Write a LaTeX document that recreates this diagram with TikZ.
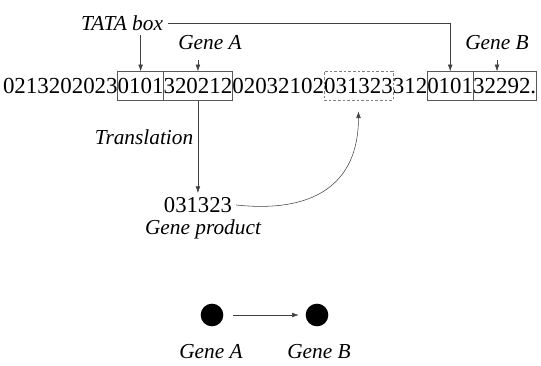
\documentclass[tikz,border=0pt]{standalone}
\usepackage{fontspec}
\setmainfont{Liberation Serif}
\usetikzlibrary{positioning,arrows.meta}

\begin{document}
\begin{tikzpicture}[x=0.75pt,y=-0.75pt,
	seq/.style={inner sep=0pt, outer sep=0pt, minimum height=22pt, font=\fontsize{17.2}{20}\selectfont},
	site/.style={seq, draw=black!65},
	lbl/.style={font=\fontsize{16}{19}\selectfont\itshape},
	link/.style={draw=black!75, -{Latex[length=5pt,width=3.5pt]}},
	gene/.style={circle, fill=black, minimum size=17pt, inner sep=0pt}]
	\useasboundingbox (0,0) rectangle (541,365);

	% the string with its sites
	\node[seq, anchor=west] (pre) at (3,86) {0213202023};
	\node[site, right=0pt of pre] (tataA) {0101};
	\node[site, right=0pt of tataA] (geneA) {320212};
	\node[seq, right=0pt of geneA] (mid) {02032102};
	\node[seq, draw=black!50, dash pattern=on 2pt off 1.5pt, right=0pt of mid] (target) {031323};
	\node[seq, right=0pt of target] (gap) {312};
	\node[site, right=0pt of gap] (tataB) {0101};
	\node[site, right=0pt of tataB] (geneB) {32292.};

	\node[lbl] (tata) at (122,23) {TATA box};
	\node[lbl] (lblA) at (210,43) {Gene A};
	\node[lbl] (lblB) at (497,43) {Gene B};

	\draw[link] (tataA.north |- tata.south) -- (tataA.north);
	\draw[link] (tata.east) -| (tataB.north);
	\draw[link, shorten <=4pt] (lblA.south -| geneA.north) -- (geneA.north);
	\draw[link, shorten <=4pt] (lblB.south) -- (lblB.south |- geneB.north);

	% product of gene A
	\node[font=\fontsize{17}{20}\selectfont, inner sep=3pt] (product) at (geneA.south |- 0,205) {031323};
	\node[lbl, inner sep=1pt] (prodlbl) at (203,229) {Gene product};
	\coordinate (hit) at ([yshift=-8pt]target.south);
	\draw[link] (geneA.south) -- node[lbl, left, pos=0.4] {Translation} (product.north);
	\draw[link] (product.east) .. controls +(75,8) and +(0,75) .. (hit);

	% resulting network
	\node[gene] (dotA) at (212,315) {};
	\node[gene] (dotB) at (317,315) {};
	\node[lbl] (netA) at (211,352) {Gene A};
	\node[lbl] (netB) at (319,352) {Gene B};
	\draw[link, shorten <=7pt, shorten >=5pt] (dotA) -- (dotB);
\end{tikzpicture}
\end{document}
